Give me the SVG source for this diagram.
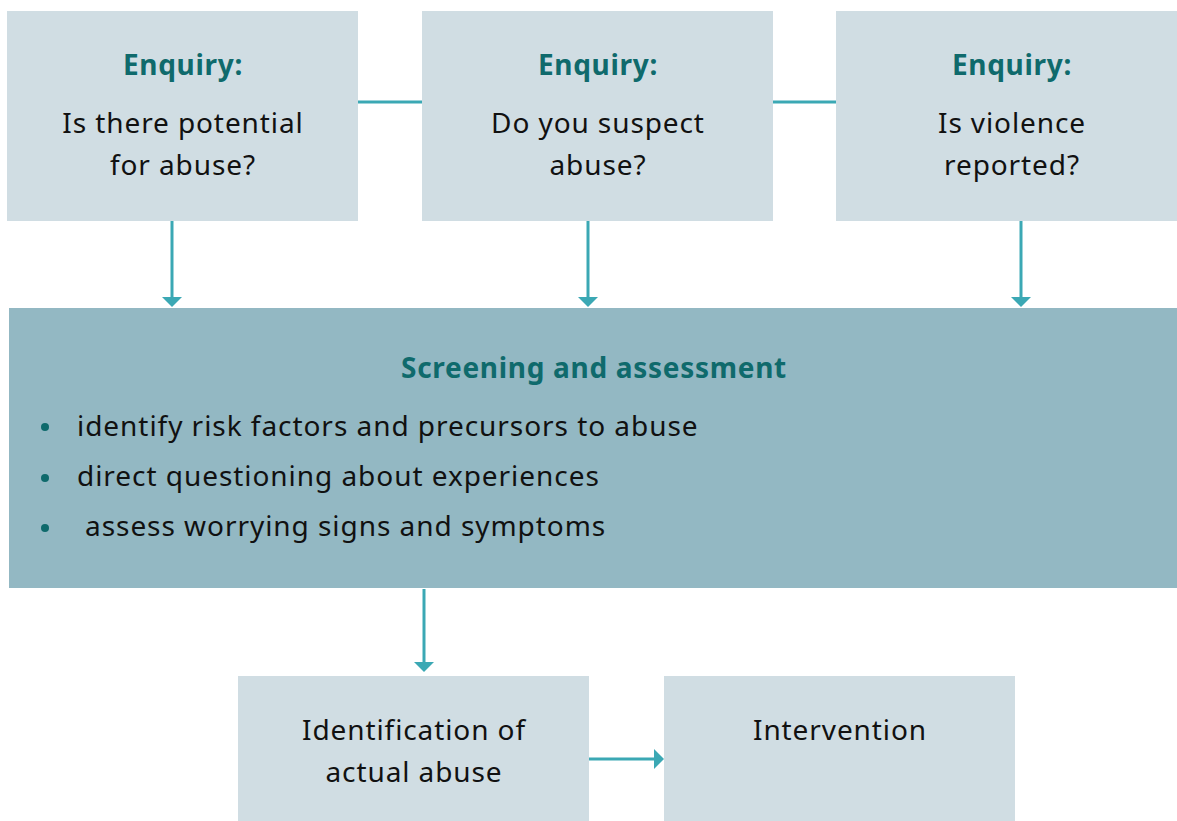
<svg xmlns="http://www.w3.org/2000/svg" width="1177" height="821" viewBox="0 0 1177 821">
  <style>
    .box { fill: #d0dde3; }
    .main { fill: #93b8c3; }
    .head { font-family: "Noto Sans", "Open Sans", sans-serif; font-weight: 700; font-size: 28px; letter-spacing: 0.7px; fill: #0f6a6c; text-anchor: middle; }
    .txt { font-family: "Noto Sans", "Open Sans", sans-serif; font-size: 28px; letter-spacing: 0.9px; fill: #111; text-anchor: middle; }
    .item { font-family: "Noto Sans", "Open Sans", sans-serif; font-size: 28px; letter-spacing: 0.95px; fill: #111; }
    .line { stroke: #3ba8b4; stroke-width: 3; fill: none; }
    .tip { fill: #3ba8b4; }
    .dot { fill: #0f6a6c; }
  </style>

  <g id="connectors">
    <line class="line" x1="358" y1="102" x2="422" y2="102"/>
    <line class="line" x1="773" y1="102" x2="836" y2="102"/>
    <path class="line" d="M172,221 V298"/>
    <path class="tip" d="M162,297 L182,297 L172,307 Z"/>
    <path class="line" d="M588,221 V298"/>
    <path class="tip" d="M578,297 L598,297 L588,307 Z"/>
    <path class="line" d="M1021,221 V298"/>
    <path class="tip" d="M1011,297 L1031,297 L1021,307 Z"/>
    <path class="line" d="M424,589 V663"/>
    <path class="tip" d="M414,662 L434,662 L424,672 Z"/>
    <path class="line" d="M589,759 H655"/>
    <path class="tip" d="M654,749 L654,769 L664,759 Z"/>
  </g>

  <g id="enquiry-potential">
    <rect class="box" x="7" y="11" width="351" height="210"/>
    <text class="head" x="183" y="75">Enquiry:</text>
    <text class="txt" x="183" y="133">Is there potential</text>
    <text class="txt" x="183" y="175">for abuse?</text>
  </g>

  <g id="enquiry-suspect">
    <rect class="box" x="422" y="11" width="351" height="210"/>
    <text class="head" x="598" y="75">Enquiry:</text>
    <text class="txt" x="598" y="133">Do you suspect</text>
    <text class="txt" x="598" y="175">abuse?</text>
  </g>

  <g id="enquiry-reported">
    <rect class="box" x="836" y="11" width="341" height="210"/>
    <text class="head" x="1012" y="75">Enquiry:</text>
    <text class="txt" x="1012" y="133">Is violence</text>
    <text class="txt" x="1012" y="175">reported?</text>
  </g>

  <g id="screening">
    <rect class="main" x="9" y="308" width="1168" height="280"/>
    <text class="head" x="594" y="378">Screening and assessment</text>
    <circle class="dot" cx="45" cy="427" r="4"/>
    <text class="item" x="77" y="436">identify risk factors and precursors to abuse</text>
    <circle class="dot" cx="45" cy="478" r="4"/>
    <text class="item" x="77" y="486">direct questioning about experiences</text>
    <circle class="dot" cx="45" cy="528" r="4"/>
    <text class="item" x="85" y="536">assess worrying signs and symptoms</text>
  </g>

  <g id="identification">
    <rect class="box" x="238" y="676" width="351" height="145"/>
    <text class="txt" x="414" y="740">Identification of</text>
    <text class="txt" x="414" y="782">actual abuse</text>
  </g>

  <g id="intervention">
    <rect class="box" x="664" y="676" width="351" height="145"/>
    <text class="txt" x="840" y="740">Intervention</text>
  </g>
</svg>
